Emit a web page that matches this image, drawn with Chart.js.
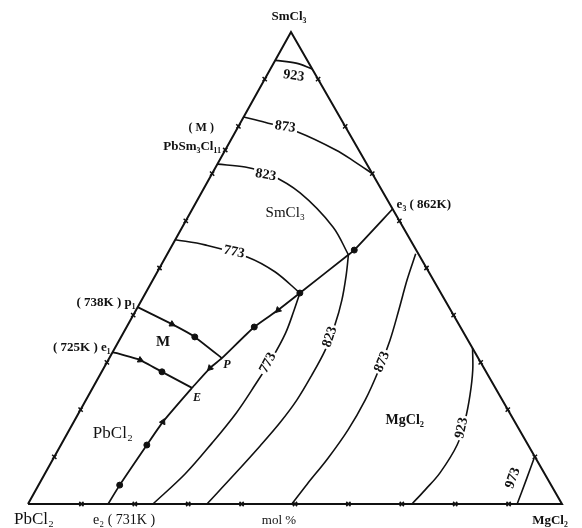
<!DOCTYPE html>
<html>
<head>
<meta charset="utf-8">
<script src="https://cdn.jsdelivr.net/npm/chart.js@4.4.0/dist/chart.umd.min.js"></script>
<style>
  body { margin: 0; background: #fff; }
</style>
</head>
<body>
<canvas id="myChart" width="582" height="528"></canvas>
<script>
// every point is [mol% SmCl3, mol% MgCl2], PbCl2 makes up the rest
const triangle = [[0, 0], [0, 100], [100, 0], [0, 0]]

// isotherms in the SmCl3 field (K)
const iso923Sm = [[94, 0], [93.4, 4.2], [92.2, 7.8]]
const iso873Sm = [[82, 0], [80.9, 4.5], [78.8, 11.7], [75, 20.7], [72.5, 25.5], [70, 30]]
const iso823Sm = [[72, 0], [71.4, 5.5], [69.9, 10.7], [65.9, 18.5], [58.7, 28.2], [52.8, 34]]
const iso773Sm = [[56, 0], [54.9, 6.1], [52.3, 15.4], [49.2, 22], [44.7, 28.9]]

// isotherms in the MgCl2 field (K)
const iso773Mg = [[44.7, 28.9], [41.1, 29.6], [36.2, 30.4], [30.9, 30.5], [25.2, 30.1], [19.3, 29.5], [12.9, 28.1], [6.4, 26.3], [0, 23.4]]
const iso823Mg = [[52.8, 34], [48.5, 35.7], [43.2, 37.5], [37.9, 38.8], [32.6, 39.6], [27.3, 39.7], [22, 39.5], [17.2, 38.7], [12.3, 37.4], [6.4, 35.6], [0, 33.5]]
const iso873Mg = [[53, 46.5], [47.5, 47.6], [41.1, 49.2], [34.7, 50.7], [28.4, 51.7], [22, 52.3], [15.7, 52.2], [9.7, 51.4], [4.2, 50.2], [0, 49.4]]
const iso923Mg = [[33, 67], [28.4, 69.3], [23.1, 71.4], [17.8, 73.1], [12.5, 74.2], [6.6, 73.9], [3, 72.9], [0, 71.9]]
const iso973Mg = [[9.7, 90], [5, 90.8], [0, 91.6]]

// field boundaries
const boundaryE3E = [[62.5, 37.5], [53.8, 34.6], [52.8, 34], [44.7, 28.9], [41.1, 26.6], [37.5, 23.9], [30.9, 21.1], [28.8, 19.9], [24.6, 18.6]]
const boundaryEE2 = [[24.6, 18.6], [17.4, 16.7], [12.5, 16.1], [4, 15.2], [0, 15]]
const boundaryP1P = [[41.7, 0], [38.1, 8.2], [35.4, 13.8], [30.9, 21.1]]
const boundaryE1E = [[32.2, 0], [30.5, 6], [28, 11.3], [24.6, 18.6]]

// marks on the boundaries
const dotMarks = [[53.8, 34.6], [44.7, 28.9], [37.5, 23.9], [35.4, 13.8], [28, 11.3], [12.5, 16.1], [4, 15.2]]
const arrowMarks = [[41.1, 26.6], [28.8, 19.9], [38.1, 8.2], [30.5, 6], [17.4, 16.7]]
const arrowTurn = [225, 225, 118, 115, 25]

// scale marks every 10 mol%, plus PbSm3Cl11 (75)
const leftTicks = [10, 20, 30, 40, 50, 60, 70, 75, 80, 90]
const rightTicks = [10, 20, 30, 40, 50, 60, 70, 80, 90]
const baseTicks = [10, 20, 30, 40, 50, 60, 70, 80, 90]

const APEX = 0.4925

function toXY(p) {
    return { x: p[1] / 100 + APEX * p[0] / 100, y: p[0] / 100 }
}

const tickPts = []
leftTicks.forEach(t => tickPts.push([t, 0]))
rightTicks.forEach(t => tickPts.push([t, 100 - t]))
baseTicks.forEach(t => tickPts.push([0, t]))

const serif = '"Liberation Serif", "DejaVu Serif", serif'

const labels = [
    { t: 'SmCl₃', at: [100, 0], dx: -2, dy: -15, f: 'bold 13px' },
    { t: 'PbCl₂', at: [0, 0], dx: 6, dy: 16, f: '17px' },
    { t: 'MgCl₂', at: [0, 100], dx: -12, dy: 17, f: 'bold 13px' },
    { t: 'mol %', at: [0, 47], dx: 0, dy: 17, f: '13px' },
    { t: 'e₂ ( 731K )', at: [0, 15], dx: -15, dy: 16, f: '14px', a: 'left' },
    { t: '( 725K ) e₁', at: [32.2, 0], dx: -2, dy: -4, f: 'bold 13px', a: 'right' },
    { t: '( 738K ) p₁', at: [41.7, 0], dx: -2, dy: -5, f: 'bold 13px', a: 'right' },
    { t: 'e₃ ( 862K)', at: [62.5, 37.5], dx: 4, dy: -4, f: 'bold 13px', a: 'left' },
    { t: '( M )', at: [75, 0], dx: -24, dy: -22, f: 'bold 12px' },
    { t: 'PbSm₃Cl₁₁', at: [75, 0], dx: -4, dy: -3, f: 'bold 13px', a: 'right' },
    { t: 'SmCl₃', at: [61.7, 17.8], f: '15px' },
    { t: 'M', at: [34.3, 8.4], f: 'bold 15px' },
    { t: 'PbCl₂', at: [15, 8.5], f: '17px' },
    { t: 'MgCl₂', at: [17.8, 61.8], f: 'bold 14px' },
    { t: 'P', at: [30.9, 21.1], dx: 5, dy: 7, f: 'italic bold 12px' },
    { t: 'E', at: [24.6, 18.6], dx: 5, dy: 10, f: 'italic bold 12px' },
    { t: '923', at: [90.7, 5.1], r: 8, f: 'bold 14px' },
    { t: '873', at: [79.9, 8.8], r: 8, f: 'bold 14px', bg: true },
    { t: '823', at: [69.7, 10.2], r: 10, f: 'bold 14px', bg: true },
    { t: '773', at: [53.4, 12.3], r: 12, f: 'bold 14px', bg: true },
    { t: '773', at: [29.9, 30.2], r: -62, f: 'bold 14px', bg: true },
    { t: '823', at: [35.4, 39.1], r: -72, f: 'bold 14px', bg: true },
    { t: '873', at: [30.1, 51.5], r: -68, f: 'bold 14px', bg: true },
    { t: '923', at: [16.1, 73.3], r: -78, f: 'bold 14px', bg: true },
    { t: '973', at: [5.5, 88.1], r: -70, f: 'bold 14px' }
]

const labelPlugin = {
    id: 'labels',
    afterDatasetsDraw(chart) {
        const ctx = chart.ctx
        const sx = chart.scales.x
        const sy = chart.scales.y
        labels.forEach(l => {
            const p = toXY(l.at)
            const px = sx.getPixelForValue(p.x) + (l.dx || 0)
            const py = sy.getPixelForValue(p.y) + (l.dy || 0)
            ctx.save()
            ctx.translate(px, py)
            ctx.rotate((l.r || 0) * Math.PI / 180)
            ctx.font = l.f + ' ' + serif
            ctx.textAlign = l.a || 'center'
            ctx.textBaseline = 'middle'
            if (l.bg) {
                const w = ctx.measureText(l.t).width
                ctx.fillStyle = '#fff'
                ctx.fillRect(-w / 2 - 2, -6, w + 4, 12)
            }
            ctx.fillStyle = '#111'
            ctx.fillText(l.t, 0, 0)
            ctx.restore()
        })
    }
}

function line(pts, w) {
    return {
        data: pts.map(toXY),
        showLine: true,
        borderColor: '#111',
        borderWidth: w,
        pointRadius: 0,
        tension: 0.35,
        fill: false,
        clip: false
    }
}

const ctx = document.getElementById('myChart')

const myChart = new Chart(ctx, {
    type: 'scatter',
    data: {
        datasets: [
            Object.assign(line(triangle, 2), { tension: 0 }),
            line(iso923Sm, 1.8),
            line(iso873Sm, 1.6),
            line(iso823Sm, 1.6),
            line(iso773Sm, 1.6),
            line(iso773Mg, 1.6),
            line(iso823Mg, 1.6),
            line(iso873Mg, 1.6),
            line(iso923Mg, 1.6),
            line(iso973Mg, 1.6),
            Object.assign(line(boundaryE3E, 1.8), { tension: 0.2 }),
            Object.assign(line(boundaryEE2, 1.8), { tension: 0.2 }),
            Object.assign(line(boundaryP1P, 1.8), { tension: 0.1 }),
            Object.assign(line(boundaryE1E, 1.8), { tension: 0.1 }),
            {
                data: dotMarks.map(toXY),
                pointRadius: 3,
                pointStyle: 'circle',
                backgroundColor: '#111',
                borderColor: '#111',
                clip: false
            },
            {
                data: arrowMarks.map(toXY),
                pointRadius: 3.5,
                pointStyle: 'triangle',
                rotation: arrowTurn,
                backgroundColor: '#111',
                borderColor: '#111',
                clip: false
            },
            {
                data: tickPts.map(toXY),
                pointRadius: 3,
                pointStyle: 'crossRot',
                borderColor: '#111',
                borderWidth: 1.5,
                clip: false
            }
        ]
    },
    options: {
        responsive: false,
        animation: false,
        layout: { padding: { left: 28, right: 20, top: 32, bottom: 24 } },
        scales: {
            x: { type: 'linear', min: 0, max: 1, display: false },
            y: { type: 'linear', min: 0, max: 1, display: false }
        },
        plugins: {
            legend: { display: false },
            tooltip: { enabled: false }
        }
    },
    plugins: [labelPlugin]
})
</script>
</body>
</html>
